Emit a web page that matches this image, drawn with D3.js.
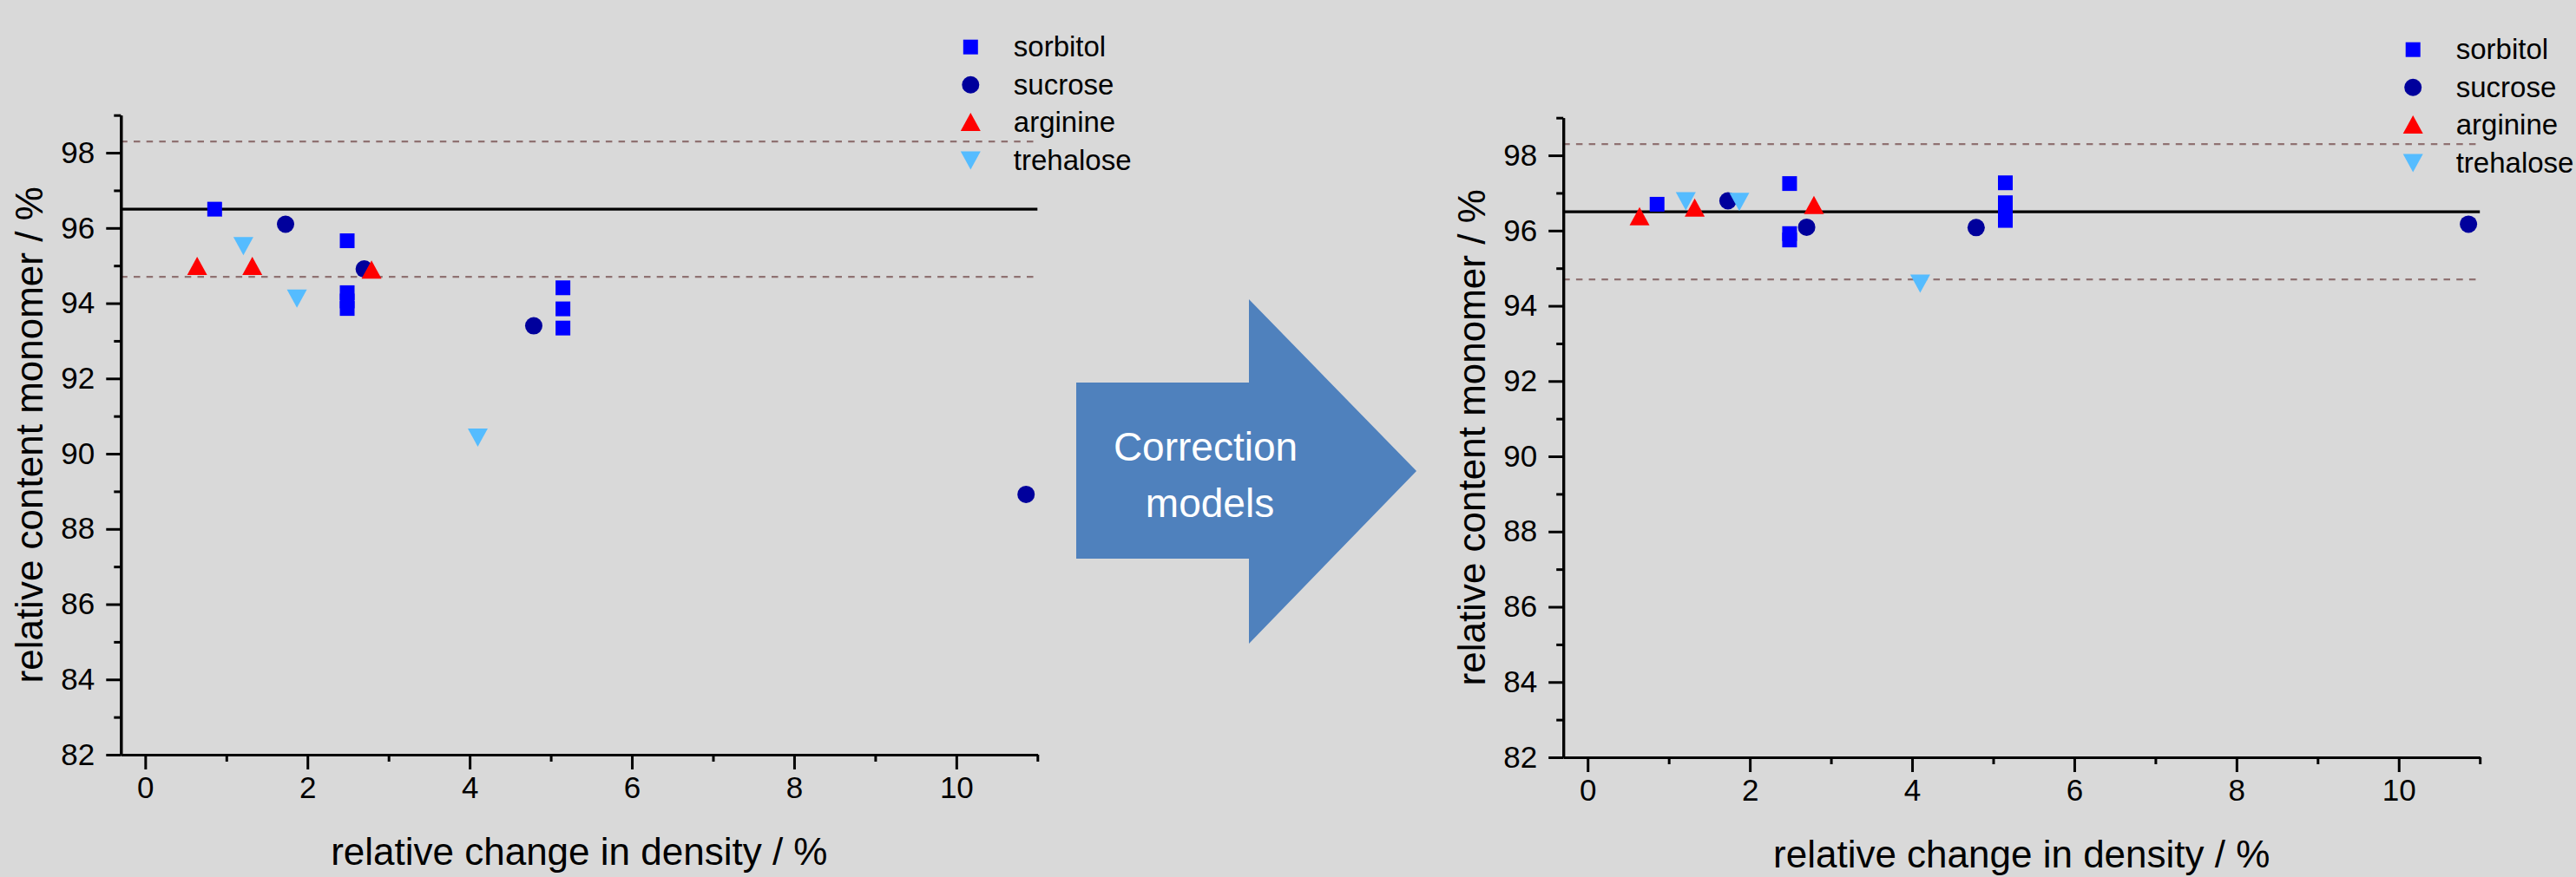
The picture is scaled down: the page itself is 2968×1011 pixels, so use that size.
<!DOCTYPE html>
<html>
<head>
<meta charset="utf-8">
<script src="https://cdn.jsdelivr.net/npm/d3@7"></script>
<style>
  body { margin: 0; background: #d9d9d9; }
  text { font-family: "Liberation Sans", Arial, sans-serif; fill: #000; }
</style>
</head>
<body>
<svg id="chart" width="2968" height="1011"></svg>
<script>
// relative change in density / %
var sorbitolXRaw = [0.856, 2.49, 2.49, 2.49, 2.49, 5.15, 5.15, 5.15];
var sorbitolXCorr = [0.856, 2.49, 2.49, 2.49, 5.15, 5.15, 5.15, 5.15];
var sucroseX = [1.73, 2.70, 4.79, 10.86];
var arginineX = [0.64, 1.32, 2.79];
var trehaloseX = [1.21, 1.87, 4.10];

// relative content monomer / %, before correction (left)
var sorbitolRaw = [96.50, 95.66, 94.28, 94.06, 93.86, 94.41, 93.85, 93.34];
var sucroseRaw = [96.10, 94.91, 93.40, 88.92];
var arginineRaw = [94.97, 94.97, 94.87];
var trehaloseRaw = [95.52, 94.12, 90.43];

// after correction models (right)
var sorbitolCorr = [96.70, 97.25, 95.92, 95.75, 97.27, 96.74, 96.50, 96.27];
var sucroseCorr = [96.79, 96.09, 96.08, 96.17];
var arginineCorr = [96.36, 96.59, 96.66];
var trehaloseCorr = [96.78, 96.76, 94.59];

var meanLine = 96.5;
var limitLines = [98.3, 94.7];

var xTicks = [0, 2, 4, 6, 8, 10];
var xMinor = [1, 3, 5, 7, 9, 11];
var yTicks = [82, 84, 86, 88, 90, 92, 94, 96, 98];
var yMinor = [83, 85, 87, 89, 91, 93, 95, 97, 99];

var seriesNames = ["sorbitol", "sucrose", "arginine", "trehalose"];
var seriesColors = { sorbitol: "#0000ff", sucrose: "#00009c", arginine: "#ff0000", trehalose: "#55bcff" };
var seriesShapes = { sorbitol: "square", sucrose: "circle", arginine: "up", trehalose: "down" };
// drawing order (triangles end up on top)
var drawOrder = ["sorbitol", "sucrose", "trehalose", "arginine"];

var svg = d3.select("#chart");

function markerPath(shape) {
  if (shape == "square") return "M-8.5,-8.5h17v17h-17z";
  if (shape == "circle") return "M-10,0a10,10 0 1,0 20,0a10,10 0 1,0 -20,0z";
  if (shape == "up") return "M0,-11.5L11.5,9.5L-11.5,9.5z";
  return "M0,10.5L11.5,-10.5L-11.5,-10.5z";
}

function drawPanel(left, top, xs, ys) {
  var x = d3.scaleLinear().domain([-0.3, 11.0]).range([left, left + 1056]),
      y = d3.scaleLinear().domain([82, 99]).range([top + 737.3, top]);

  var g = svg.append("g");

  // reference lines
  g.selectAll(".limit")
    .data(limitLines)
    .enter().append("line")
      .attr("x1", x(-0.3)).attr("x2", x(11))
      .attr("y1", function (d) { return y(d); })
      .attr("y2", function (d) { return y(d); })
      .attr("stroke", "#8f7272")
      .attr("stroke-width", 2.2)
      .attr("stroke-dasharray", "7.5,7.2");

  g.append("line")
    .attr("x1", x(-0.3)).attr("x2", x(11))
    .attr("y1", y(meanLine)).attr("y2", y(meanLine))
    .attr("stroke", "#000")
    .attr("stroke-width", 3.2);

  // axes
  g.append("g")
    .attr("transform", "translate(0," + y(82) + ")")
    .call(d3.axisBottom(x).tickValues(xTicks).tickSize(17).tickSizeOuter(0).tickPadding(8));
  g.append("g")
    .attr("transform", "translate(0," + y(82) + ")")
    .call(d3.axisBottom(x).tickValues(xMinor).tickSize(8).tickFormat("").tickSizeOuter(0));

  g.append("g")
    .attr("transform", "translate(" + x(-0.3) + ",0)")
    .call(d3.axisLeft(y).tickValues(yTicks).tickSize(17).tickSizeOuter(0).tickPadding(13));
  g.append("g")
    .attr("transform", "translate(" + x(-0.3) + ",0)")
    .call(d3.axisLeft(y).tickValues(yMinor).tickSize(8).tickFormat("").tickSizeOuter(0));

  g.selectAll(".domain, .tick line").attr("stroke", "#000").attr("stroke-width", 3);
  g.selectAll(".tick text")
    .attr("font-family", "'Liberation Sans', Arial, sans-serif")
    .attr("font-size", 35)
    .attr("fill", "#000");

  g.append("text")
    .attr("x", (x(-0.3) + x(11)) / 2)
    .attr("y", y(82) + 127)
    .attr("text-anchor", "middle")
    .attr("font-size", 44)
    .text("relative change in density / %");

  g.append("text")
    .attr("transform", "translate(" + (x(-0.3) - 90) + "," + (y(82) + y(99)) / 2 + ") rotate(-90)")
    .attr("text-anchor", "middle")
    .attr("font-size", 44)
    .text("relative content monomer / %");

  // points
  drawOrder.forEach(function (name) {
    g.selectAll(".pt-" + name)
      .data(d3.zip(xs[name], ys[name]))
      .enter().append("path")
        .attr("class", "pt-" + name)
        .attr("d", markerPath(seriesShapes[name]))
        .attr("transform", function (d) { return "translate(" + x(d[0]) + "," + y(d[1]) + ")"; })
        .attr("fill", seriesColors[name]);
  });

  // legend
  var legend = g.selectAll(".legend")
    .data(seriesNames)
    .enter().append("g")
      .attr("transform", function (d, i) { return "translate(" + (left + 979) + "," + (top - 78.5 + i * 43.6) + ")"; });

  legend.append("path")
    .attr("d", function (d) { return markerPath(seriesShapes[d]); })
    .attr("fill", function (d) { return seriesColors[d]; });

  legend.append("text")
    .attr("x", 49.5)
    .attr("y", 11)
    .attr("font-size", 33)
    .text(function (d) { return d; });
}

drawPanel(139.3, 132.7,
  { sorbitol: sorbitolXRaw, sucrose: sucroseX, arginine: arginineX, trehalose: trehaloseX },
  { sorbitol: sorbitolRaw, sucrose: sucroseRaw, arginine: arginineRaw, trehalose: trehaloseRaw });
drawPanel(1801.2, 135.7,
  { sorbitol: sorbitolXCorr, sucrose: sucroseX, arginine: arginineX, trehalose: trehaloseX },
  { sorbitol: sorbitolCorr, sucrose: sucroseCorr, arginine: arginineCorr, trehalose: trehaloseCorr });

// arrow between the panels
svg.append("path")
  .attr("d", "M1240,441L1439,441L1439,345L1632,543L1439,742L1439,644L1240,644Z")
  .attr("fill", "#4f81bd");

svg.append("text")
  .attr("x", 1389)
  .attr("y", 531)
  .attr("text-anchor", "middle")
  .attr("font-family", "'Open Sans', Lato, sans-serif")
  .attr("font-size", 46)
  .style("fill", "#fff")
  .text("Correction");

svg.append("text")
  .attr("x", 1394)
  .attr("y", 596)
  .attr("text-anchor", "middle")
  .attr("font-family", "'Open Sans', Lato, sans-serif")
  .attr("font-size", 46)
  .style("fill", "#fff")
  .text("models");
</script>
</body>
</html>
